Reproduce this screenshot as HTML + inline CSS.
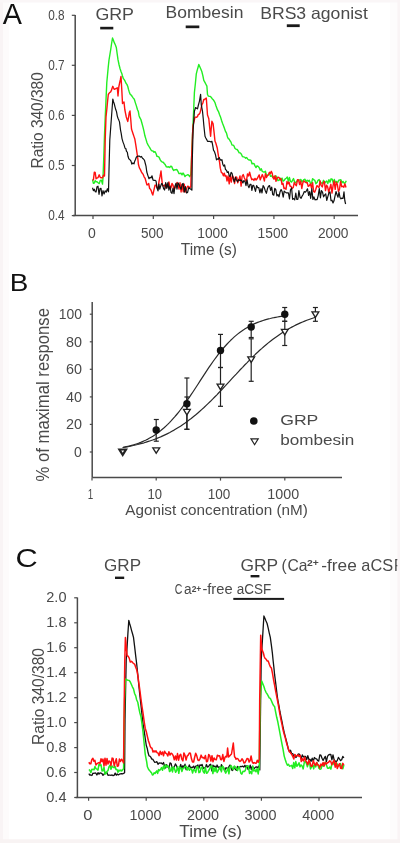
<!DOCTYPE html>
<html><head><meta charset="utf-8"><title>Figure</title>
<style>html,body{margin:0;padding:0;background:#fff;width:400px;height:843px;overflow:hidden}svg{display:block;font-family:"Liberation Sans",sans-serif;filter:blur(0.35px)}</style>
</head><body>
<svg width="400" height="843" viewBox="0 0 400 843" font-family="Liberation Sans, sans-serif">
<rect x="0" y="0" width="400" height="843" fill="#fff"/>
<rect x="3" y="0" width="6" height="843" fill="#fdfbfb"/>
<rect x="390" y="0" width="7.3" height="843" fill="#fdfcfc"/>
<rect x="0" y="0" width="3" height="843" fill="#f9f4f5"/>
<rect x="0" y="0" width="400" height="2.5" fill="#faf6f7"/>
<text x="2.8" y="24" font-size="30" text-anchor="start" fill="#111" textLength="19.2" lengthAdjust="spacingAndGlyphs">A</text>
<text x="95.4" y="19.5" font-size="16" text-anchor="start" fill="#4a4a4a" textLength="38.6" lengthAdjust="spacingAndGlyphs">GRP</text>
<text x="165.6" y="18" font-size="16.5" text-anchor="start" fill="#4a4a4a" textLength="77.8" lengthAdjust="spacingAndGlyphs">Bombesin</text>
<text x="260.2" y="19.2" font-size="16.5" text-anchor="start" fill="#4a4a4a" textLength="107.6" lengthAdjust="spacingAndGlyphs">BRS3 agonist</text>
<rect x="100.2" y="26.8" width="13.1" height="2.6" fill="#1a1a1a"/>
<rect x="185.7" y="25.5" width="13.6" height="2.7" fill="#1a1a1a"/>
<rect x="286.8" y="24.3" width="12.9" height="2.8" fill="#1a1a1a"/>
<line x1="75.2" y1="15" x2="75.2" y2="215.6" stroke="#4a4a4a" stroke-width="1.5"/>
<line x1="73" y1="215.6" x2="358" y2="215.6" stroke="#4a4a4a" stroke-width="1.5"/>
<line x1="71.8" y1="15.3" x2="75.2" y2="15.3" stroke="#4a4a4a" stroke-width="1.2"/>
<text x="64.6" y="20.1" font-size="13.8" text-anchor="end" fill="#4a4a4a" textLength="16.4" lengthAdjust="spacingAndGlyphs">0.8</text>
<line x1="71.8" y1="65.3" x2="75.2" y2="65.3" stroke="#4a4a4a" stroke-width="1.2"/>
<text x="64.6" y="70.1" font-size="13.8" text-anchor="end" fill="#4a4a4a" textLength="16.4" lengthAdjust="spacingAndGlyphs">0.7</text>
<line x1="71.8" y1="115.4" x2="75.2" y2="115.4" stroke="#4a4a4a" stroke-width="1.2"/>
<text x="64.6" y="120.2" font-size="13.8" text-anchor="end" fill="#4a4a4a" textLength="16.4" lengthAdjust="spacingAndGlyphs">0.6</text>
<line x1="71.8" y1="165.5" x2="75.2" y2="165.5" stroke="#4a4a4a" stroke-width="1.2"/>
<text x="64.6" y="170.3" font-size="13.8" text-anchor="end" fill="#4a4a4a" textLength="16.4" lengthAdjust="spacingAndGlyphs">0.5</text>
<line x1="71.8" y1="215.6" x2="75.2" y2="215.6" stroke="#4a4a4a" stroke-width="1.2"/>
<text x="64.6" y="220.4" font-size="13.8" text-anchor="end" fill="#4a4a4a" textLength="16.4" lengthAdjust="spacingAndGlyphs">0.4</text>
<line x1="93" y1="215.6" x2="93" y2="219" stroke="#4a4a4a" stroke-width="1.2"/>
<text x="92" y="237.6" font-size="14.6" text-anchor="middle" fill="#4a4a4a" textLength="7.8" lengthAdjust="spacingAndGlyphs">0</text>
<line x1="153.3" y1="215.6" x2="153.3" y2="219" stroke="#4a4a4a" stroke-width="1.2"/>
<text x="152.3" y="237.6" font-size="14.6" text-anchor="middle" fill="#4a4a4a" textLength="22.6" lengthAdjust="spacingAndGlyphs">500</text>
<line x1="213.6" y1="215.6" x2="213.6" y2="219" stroke="#4a4a4a" stroke-width="1.2"/>
<text x="212.6" y="237.6" font-size="14.6" text-anchor="middle" fill="#4a4a4a" textLength="30.6" lengthAdjust="spacingAndGlyphs">1000</text>
<line x1="273.9" y1="215.6" x2="273.9" y2="219" stroke="#4a4a4a" stroke-width="1.2"/>
<text x="272.9" y="237.6" font-size="14.6" text-anchor="middle" fill="#4a4a4a" textLength="30.6" lengthAdjust="spacingAndGlyphs">1500</text>
<line x1="334.2" y1="215.6" x2="334.2" y2="219" stroke="#4a4a4a" stroke-width="1.2"/>
<text x="333.2" y="237.6" font-size="14.6" text-anchor="middle" fill="#4a4a4a" textLength="30.6" lengthAdjust="spacingAndGlyphs">2000</text>
<text x="180.8" y="255" font-size="16.8" text-anchor="start" fill="#4a4a4a" textLength="56" lengthAdjust="spacingAndGlyphs">Time (s)</text>
<text x="0" y="0" font-size="16.5" fill="#4a4a4a" textLength="96.3" lengthAdjust="spacingAndGlyphs" transform="translate(42.8 168.5) rotate(-90)">Ratio 340/380</text>
<path d="M92.5 179.7 L93.4 183.3 L94.3 183 L95.2 180.6 L96.1 181.9 L97 181.8 L98.1 182.8 L99.2 183.6 L100.3 180.4 L101.4 180.1 L102.5 184.1 L103 178 L103.8 156.5 L104.5 135 L105.2 117.5 L106 100 L106.8 82.5 L107.5 75 L108.2 67.5 L109 60 L109.9 54.5 L110.8 49 L111.6 43.5 L112.5 38 L113.5 40.4 L114.4 42.9 L115.3 44.7 L116.3 47.4 L117.2 54 L118 59.7 L119 64.5 L120 68.5 L121 71.4 L121.8 73.4 L122.5 76 L123.3 78.5 L124.2 79.6 L125.1 81.2 L126 83.3 L126.9 84.4 L127.8 86.5 L128.5 89.4 L129.3 92 L130 94 L130.8 94.7 L131.5 95.5 L132.3 96.7 L133.3 98.1 L134.3 99.3 L135.3 102.6 L136.4 105.9 L137.5 109.8 L138.3 111.4 L139 115.4 L139.8 117.7 L140.8 119.3 L141.8 122.7 L142.8 126.4 L143.9 130.9 L144.9 135.8 L146 139.4 L147 142.7 L148 144.9 L149 146.5 L150 148.2 L151 150 L152 150.9 L153 151 L154 152.2 L155 151.7 L156 153.5 L157 156.4 L158 156.5 L159 157.1 L160 159.4 L161 161.1 L162.1 162.1 L163.2 162.2 L164.2 163.5 L165.3 164.8 L166.4 166.8 L167.5 167 L168.6 166.8 L169.6 167.5 L170.7 166.2 L171.7 166.5 L172.8 169.2 L173.8 170.5 L174.8 169.8 L175.9 169.7 L176.9 169.5 L177.9 171.3 L179 173.6 L180 173.5 L181 173.1 L182 174.8 L183 173 L184 174.5 L185 176.6 L186 175.4 L186.9 175.1 L187.9 174.6 L188.9 175.5 L189.8 176.7 L190.8 174.4 L191.3 165 L191.9 150 L192.7 130.8 L193.6 111.7 L194.4 92.5 L195.4 83.2 L196.3 73.8 L197.1 70.7 L198 67.5 L198.8 64.4 L199.8 66.8 L200.9 69.3 L201.9 71.8 L202.9 75.9 L203.8 80.4 L204.8 82.1 L205.9 84.3 L206.9 86.2 L207.5 94.5 L208.4 96.1 L209.4 96.4 L210.4 96.4 L211.3 97.5 L212.2 98.7 L213.2 99.7 L214.1 101 L215 102.6 L215.8 105.2 L216.7 107.7 L217.5 109.9 L218.5 111.6 L219.5 114.5 L220.5 116.9 L221.5 120.2 L222.5 123.2 L223.5 125.8 L224.5 128.6 L225.5 131.4 L226.5 133.1 L227.5 137 L228.3 138.6 L229.2 139.2 L230 140.8 L231 142.1 L232 145.1 L233 145.1 L234 146.1 L235 148.5 L236 149.1 L237.1 149.5 L238.1 150.8 L239.2 152.8 L240.3 152.9 L241.4 154.2 L242.4 156.5 L243.5 156.9 L244.6 157.1 L245.6 158.2 L246.7 157.6 L247.8 159.2 L248.9 160 L249.9 160 L251 160.4 L252 163.7 L253 163.5 L254 163.6 L255 165.9 L256 167.6 L257 165.8 L258.1 166.4 L259.1 167.5 L260.2 170.2 L261.3 168.8 L262.3 171.4 L263.4 172 L264.4 172.1 L265.4 171.3 L266.5 175.4 L267.5 175.2 L268.6 174.5 L269.6 173.7 L270.6 176.4 L271.7 175.8 L272.8 177.2 L273.8 176.6 L274.8 178.3 L275.9 175.8 L276.9 177.2 L277.9 180.6 L279 180.4 L280 177.9 L281 180.6 L282.1 178.1 L283.1 181.2 L284.2 180.4 L285.2 178.9 L286.2 178.2 L287.3 177.1 L288.3 181.4 L289.4 177.5 L290.4 181.3 L291.5 182.1 L292.5 180.3 L293.5 178.5 L294.6 182 L295.6 182.7 L296.7 181.4 L297.7 180.6 L298.8 180 L299.8 180 L300.8 179.4 L301.9 181.9 L302.9 180.7 L304 179.6 L305 179.2 L306.1 182.2 L307.2 180.2 L308.3 181.3 L309.3 180.3 L310.4 183.2 L311.5 183.3 L312.6 178.7 L313.7 179.6 L314.8 180.3 L315.9 183.7 L317 182.6 L318 180.3 L319.1 179.6 L320.2 182 L321.3 182.9 L322.4 183.4 L323.5 180.3 L324.6 183.1 L325.6 182 L326.7 181 L327.8 183.6 L328.9 179.6 L330 182.2 L331.1 178.8 L332.2 179.2 L333.3 183.1 L334.3 179.4 L335.4 182.3 L336.5 181.4 L337.6 182.7 L338.7 180.2 L339.8 180 L340.9 179.8 L342 182.8 L343 181.4 L344.1 183.2 L345.2 182.9 L346.3 180.8" fill="none" stroke="#22ee22" stroke-width="1.4" stroke-linejoin="round"/>
<path d="M92.5 179.8 L93.4 179.8 L94.3 172.3 L95.2 172.5 L96.1 178.8 L97 178 L98.1 177.6 L99.2 174.8 L100.3 177.5 L101.4 177.7 L102.5 177.7 L103.5 175.1 L104.5 176 L105.2 140 L106 117 L106.8 109.5 L107.5 102 L108.3 94.5 L109 93.4 L109.8 92.3 L110.5 92.1 L111.3 90.7 L112 88.5 L112.8 86.3 L113.5 87.8 L114.3 89.3 L115.3 88.8 L116.3 88.3 L117.3 87.8 L118 96 L118.8 87 L119.5 83.5 L120.3 80 L121 76.5 L121.8 90 L122.5 103.5 L123.2 102.8 L124 102 L124.8 109.5 L125.5 113.2 L126.3 117 L127 119.2 L127.8 121.5 L128.6 117 L129.3 112.5 L130 111 L130.8 120 L131.5 129 L132.3 131.6 L133.2 134.2 L134 136.6 L134.8 138.9 L135.9 145.6 L137 153 L137.8 158.7 L138.5 164.8 L139.4 167.9 L140.4 169.6 L141.4 171.9 L142.3 173.3 L143.2 174.4 L144.2 177.1 L145.1 178.2 L146 181.5 L146.9 184.9 L147.8 184.7 L148.7 183.5 L149.6 188.4 L150.5 189.2 L151.3 190.9 L152 193.3 L152.8 195 L153.9 190.1 L155 185.3 L156 185.1 L157 187.8 L158 188.8 L159 181.4 L160 176.7 L161 171 L161.8 179.1 L162.5 185.8 L163.6 185.8 L164.6 185.1 L165.7 188.1 L166.8 184.3 L167.9 187 L168.9 181.9 L170 187.3 L171 187.9 L172 183.4 L173 185 L174 189.5 L175 187.7 L176 185.2 L177 182.4 L178 184 L179 189.1 L180 182.8 L181.1 192 L182.2 183.9 L183.2 191.7 L184.3 184.3 L185.4 191.9 L186.5 188.8 L187.6 186.3 L188.6 186.4 L189.7 187.8 L190.8 187 L191.5 160 L192.5 135 L193.1 125 L194.1 121.1 L195 117.1 L195.8 117.1 L196.7 117.3 L197.5 116.5 L198.3 114.4 L199.2 114.2 L200 112.8 L200.9 109.3 L201.9 104.6 L202.9 102.8 L203.8 99.4 L204.6 99.5 L205.5 98.6 L206.3 98.1 L206.9 106.5 L207.5 115 L208.2 116.9 L208.8 118.8 L209.7 127.6 L210.6 136.3 L211.2 128.8 L211.9 121.3 L212.5 122.5 L213.1 123.8 L214.1 132.6 L215 141.3 L215.8 143 L216.5 145.5 L217.3 148.3 L218 153.1 L218.8 158 L219.6 162.3 L220.3 168.2 L221.4 172.6 L222.5 173.2 L223.4 175.8 L224.3 173.1 L225.2 176.2 L226.1 175.8 L227 181 L228.1 176 L229.2 183.8 L230.2 175.6 L231.3 182.1 L232.4 175.5 L233.5 177.9 L234.6 183.5 L235.7 177 L236.8 177.3 L237.8 182.8 L238.9 179.6 L240 175.9 L241.1 186.1 L242.1 176.3 L243.2 174.6 L244.3 177.7 L245.4 180.3 L246.4 181.4 L247.5 173.9 L248.6 176 L249.6 172.2 L250.7 176.5 L251.8 179.7 L252.9 179 L253.9 180.4 L255 178.4 L256.1 180 L257.1 178.8 L258.1 176.9 L259.2 174.9 L260.2 179.9 L261.3 177 L262.3 174.6 L263.4 177.5 L264.4 181 L265.4 173.8 L266.5 177.5 L267.5 175.4 L268.4 175.1 L269.4 172.3 L270.4 173.5 L271.3 171.3 L272.2 173.4 L273.1 177.8 L274 179.2 L275 175.7 L276 181.4 L277 177.7 L278 177.3 L279 177.5 L280 179.2 L281 178.7 L282 184.4 L283 183.3 L284 188.5 L285 188.3 L286 189.3 L287 181.4 L288 183.9 L289 182 L290 186 L291.1 186.5 L292.1 188.6 L293.2 187.6 L294.3 182.5 L295.4 184.5 L296.4 185.7 L297.5 179.6 L298.6 180 L299.6 184.5 L300.7 181 L301.8 188.5 L302.9 182.6 L303.9 180.9 L305 182 L306.1 182.7 L307.2 182.5 L308.2 186.4 L309.3 185.7 L310.4 183.8 L311.5 188 L312.6 182.7 L313.6 191.4 L314.7 192.2 L315.8 189.3 L316.9 185.6 L317.9 186.6 L319 187.5 L320.1 180.9 L321.2 185.6 L322.3 186.9 L323.3 182.7 L324.4 181.6 L325.5 190.6 L326.6 185.1 L327.7 187.1 L328.7 192.2 L329.8 188.3 L330.9 184.3 L332 193.1 L333.1 185.4 L334.1 181 L335.2 189.4 L336.3 182.1 L337.4 184.7 L338.4 191.5 L339.5 189.4 L340.6 181.2 L341.7 186.7 L342.8 186.3 L343.8 187.2 L344.9 183.8 L346 187.5" fill="none" stroke="#ff1010" stroke-width="1.4" stroke-linejoin="round"/>
<path d="M92.5 187.8 L93.4 190.6 L94.3 189.2 L95.2 191.6 L96.1 192 L97 186.7 L98 186.2 L99 194.3 L100 188.6 L101 188.4 L102 195.9 L103 190.7 L104.1 194 L105.2 190.8 L106.3 192 L107.4 188.7 L108.5 191.8 L109 170 L109.8 140 L110.8 126.3 L111.8 112.7 L112.8 99 L113.5 101.7 L114.3 104 L115 106.8 L115.8 109.8 L116.5 111.6 L117.3 116.1 L118 118.2 L118.8 120.1 L119.5 121.9 L120.5 129.8 L121.2 133.4 L122 138.6 L123 142.1 L124 144.6 L125 148.2 L125.8 148.5 L126.5 151.4 L127.3 152.1 L128 156.3 L128.8 158.8 L129.5 159.4 L130.3 160.2 L131 161.2 L131.8 164.1 L132.9 163 L134 163.9 L134.8 160.9 L135.5 159.5 L136.3 157.2 L137.4 156.3 L138.5 156.2 L139.5 156.2 L140.5 157.1 L141.5 156.5 L142.5 158.2 L143.5 159 L144.5 160.4 L145.3 163.5 L146 166.1 L146.8 172 L147.9 175.6 L149 178.7 L150 177.3 L151 177.9 L152 175.8 L153 180 L154 180.4 L155 180.3 L156 180.9 L157 187.8 L158 190.9 L158.9 184.2 L159.8 189.2 L160.7 185.9 L161.6 183.5 L162.5 184.3 L163.6 188.7 L164.6 190 L165.7 182.5 L166.8 188.3 L167.9 182.7 L168.9 190.1 L170 186.1 L171 192.3 L172 193.4 L173 188.1 L174 193.6 L175 185.9 L176 183.3 L177 189.1 L178 182.8 L179 184.6 L180 187 L181.1 189.3 L182.2 184.5 L183.2 183.5 L184.3 192.1 L185.4 186.6 L186.5 193 L187.6 192.4 L188.7 187.6 L189.7 188.5 L190.8 189.1 L191.9 190.2 L192.3 160 L193.1 130 L193.8 120.7 L194.4 111.3 L195 109.4 L195.6 107.5 L196.6 108.2 L197.5 108.8 L198.4 105 L199.4 101.3 L200 97.8 L200.6 94.4 L201.3 105 L201.9 108.2 L202.5 111.3 L203.2 118.2 L203.8 125 L204.4 130.7 L205 136.3 L205.8 138 L206.7 139.6 L207.5 141.3 L208.3 141.3 L209.2 141.4 L210 141.5 L210.9 141.9 L211.9 141.3 L212.7 145.3 L213.5 150.1 L214.5 151.8 L215.5 154.9 L216.5 159.8 L217.4 158.9 L218.3 159.3 L219.2 157.6 L220.1 159.4 L221 160.3 L221.9 159.6 L222.8 164.2 L223.7 166.1 L224.6 164.9 L225.5 169.7 L226.4 170 L227.3 172.5 L228.2 171.7 L229.1 175.2 L230 176.7 L231.1 172.4 L232.1 173.5 L233.2 178.9 L234.3 182 L235.4 177.3 L236.4 179.8 L237.5 181.8 L238.6 179.7 L239.6 180.3 L240.7 180.1 L241.8 180.8 L242.9 182.9 L243.9 180.6 L245 181.5 L246 185.6 L247 179.8 L248 185.4 L249 187.7 L250 184.4 L251 184.3 L251.9 190.5 L252.8 185.4 L253.7 185.4 L254.6 188.4 L255.5 191.4 L256.6 185.5 L257.7 187.6 L258.8 187.7 L259.9 192.8 L261 188.6 L262 193 L263.1 185.6 L264.2 187.4 L265.3 190.7 L266.4 193.3 L267.5 188.5 L268.5 186.3 L269.6 185.6 L270.6 190.5 L271.7 187.1 L272.7 194.4 L273.8 195.2 L274.8 188.3 L275.8 189.7 L276.9 196 L277.9 194.6 L279 196.8 L280 192.1 L281.1 189.6 L282.1 191.5 L283.2 197.2 L284.2 191.2 L285.3 192.1 L286.3 192.9 L287.4 192.9 L288.4 192.8 L289.5 198.9 L290.5 189.8 L291.6 188 L292.6 199.3 L293.7 198.6 L294.7 199.9 L295.8 193.2 L296.8 199.5 L297.9 199.3 L298.9 190.5 L300 197.1 L301.1 198.3 L302.1 196.1 L303.2 194.3 L304.3 191.5 L305.4 192.2 L306.4 190.8 L307.5 188.8 L308.6 195.4 L309.6 191.6 L310.7 198.3 L311.8 188.7 L312.9 199.5 L313.9 196.9 L315 199.8 L316.1 199.5 L317.1 199.6 L318.2 195.6 L319.3 188.5 L320.4 197.8 L321.4 190.6 L322.5 192.2 L323.6 196.8 L324.6 195.1 L325.7 193.8 L326.8 200.4 L327.9 196.3 L328.9 193 L330 191.9 L331 200.7 L332 200.2 L333 203 L334 200.8 L335 196.2 L336 191.5 L337 194.5 L338 197.2 L339 192 L340 197.5 L341 198.8 L342 198.1 L343 198.5 L344 191.9 L344.8 200.5 L345.6 204" fill="none" stroke="#111111" stroke-width="1.2" stroke-linejoin="round"/>
<text x="9.8" y="291.3" font-size="24.5" text-anchor="start" fill="#111" textLength="18.6" lengthAdjust="spacingAndGlyphs">B</text>
<line x1="92.2" y1="302" x2="92.2" y2="477.4" stroke="#4a4a4a" stroke-width="1.5"/>
<line x1="92.2" y1="477.4" x2="342" y2="477.4" stroke="#4a4a4a" stroke-width="1.5"/>
<line x1="89.8" y1="452" x2="92.2" y2="452" stroke="#4a4a4a" stroke-width="1.2"/>
<text x="81.9" y="456.8" font-size="14.5" text-anchor="end" fill="#4a4a4a" textLength="7.8" lengthAdjust="spacingAndGlyphs">0</text>
<line x1="89.8" y1="424.4" x2="92.2" y2="424.4" stroke="#4a4a4a" stroke-width="1.2"/>
<text x="81.9" y="429.2" font-size="14.5" text-anchor="end" fill="#4a4a4a" textLength="16" lengthAdjust="spacingAndGlyphs">20</text>
<line x1="89.8" y1="396.9" x2="92.2" y2="396.9" stroke="#4a4a4a" stroke-width="1.2"/>
<text x="81.9" y="401.7" font-size="14.5" text-anchor="end" fill="#4a4a4a" textLength="16" lengthAdjust="spacingAndGlyphs">40</text>
<line x1="89.8" y1="369.3" x2="92.2" y2="369.3" stroke="#4a4a4a" stroke-width="1.2"/>
<text x="81.9" y="374.1" font-size="14.5" text-anchor="end" fill="#4a4a4a" textLength="16" lengthAdjust="spacingAndGlyphs">60</text>
<line x1="89.8" y1="341.8" x2="92.2" y2="341.8" stroke="#4a4a4a" stroke-width="1.2"/>
<text x="81.9" y="346.6" font-size="14.5" text-anchor="end" fill="#4a4a4a" textLength="16" lengthAdjust="spacingAndGlyphs">80</text>
<line x1="89.8" y1="314.2" x2="92.2" y2="314.2" stroke="#4a4a4a" stroke-width="1.2"/>
<text x="81.9" y="319" font-size="14.5" text-anchor="end" fill="#4a4a4a" textLength="23.2" lengthAdjust="spacingAndGlyphs">100</text>
<line x1="92" y1="477.4" x2="92" y2="480.6" stroke="#4a4a4a" stroke-width="1.2"/>
<text x="90.5" y="498.6" font-size="14.5" text-anchor="middle" fill="#4a4a4a" textLength="5.5" lengthAdjust="spacingAndGlyphs">1</text>
<line x1="156.2" y1="477.4" x2="156.2" y2="480.6" stroke="#4a4a4a" stroke-width="1.2"/>
<text x="154.8" y="498.6" font-size="14.5" text-anchor="middle" fill="#4a4a4a" textLength="14.5" lengthAdjust="spacingAndGlyphs">10</text>
<line x1="220.5" y1="477.4" x2="220.5" y2="480.6" stroke="#4a4a4a" stroke-width="1.2"/>
<text x="219" y="498.6" font-size="14.5" text-anchor="middle" fill="#4a4a4a" textLength="22.5" lengthAdjust="spacingAndGlyphs">100</text>
<line x1="284.8" y1="477.4" x2="284.8" y2="480.6" stroke="#4a4a4a" stroke-width="1.2"/>
<text x="283.2" y="498.6" font-size="14.5" text-anchor="middle" fill="#4a4a4a" textLength="31.8" lengthAdjust="spacingAndGlyphs">1000</text>
<text x="125.3" y="515" font-size="15" text-anchor="start" fill="#4a4a4a" textLength="182.5" lengthAdjust="spacingAndGlyphs">Agonist concentration (nM)</text>
<text x="0" y="0" font-size="18.5" fill="#4a4a4a" textLength="173.5" lengthAdjust="spacingAndGlyphs" transform="translate(49.3 481.5) rotate(-90)">% of maximal response</text>
<path d="M122.7 447.5 L124.5 447.1 L126.3 446.7 L128.1 446.3 L129.9 445.9 L131.7 445.4 L133.5 444.9 L135.3 444.3 L137.1 443.7 L138.9 443.1 L140.7 442.4 L142.5 441.6 L144.3 440.8 L146.1 440 L147.9 439.1 L149.7 438.1 L151.5 437.1 L153.3 436 L155.1 434.8 L156.9 433.5 L158.7 432.2 L160.5 430.8 L162.3 429.3 L164.1 427.8 L165.9 426.1 L167.7 424.4 L169.5 422.6 L171.3 420.7 L173.1 418.7 L174.9 416.7 L176.7 414.5 L178.5 412.3 L180.3 410 L182.1 407.6 L183.9 405.1 L185.7 402.6 L187.5 400 L189.3 397.4 L191.1 394.7 L192.9 392 L194.7 389.2 L196.5 386.5 L198.3 383.7 L200.1 380.9 L201.9 378.1 L203.7 375.4 L205.5 372.6 L207.3 369.9 L209.1 367.2 L210.9 364.6 L212.7 362 L214.5 359.5 L216.3 357.1 L218.1 354.7 L219.9 352.4 L221.7 350.2 L223.5 348 L225.3 346 L227.1 344 L228.9 342.1 L230.7 340.3 L232.5 338.6 L234.3 336.9 L236.1 335.4 L237.9 333.9 L239.7 332.5 L241.5 331.2 L243.3 329.9 L245.1 328.8 L246.9 327.7 L248.7 326.7 L250.5 325.7 L252.3 324.8 L254.1 323.9 L255.9 323.1 L257.7 322.4 L259.5 321.7 L261.3 321.1 L263.1 320.5 L264.9 319.9 L266.7 319.4 L268.5 318.9 L270.3 318.5 L272.1 318 L273.9 317.7 L275.7 317.3 L277.5 317 L279.3 316.7 L281.1 316.4 L282.9 316.1 L284.8 315.9" fill="none" stroke="#2a2a2a" stroke-width="1.2" stroke-linejoin="round"/>
<path d="M122.7 447.5 L124.8 447.2 L126.9 446.8 L129.1 446.4 L131.2 445.9 L133.4 445.5 L135.5 445 L137.6 444.5 L139.8 443.9 L141.9 443.4 L144.1 442.8 L146.2 442.1 L148.4 441.4 L150.5 440.7 L152.6 440 L154.8 439.2 L156.9 438.4 L159.1 437.5 L161.2 436.6 L163.3 435.6 L165.5 434.6 L167.6 433.6 L169.8 432.5 L171.9 431.3 L174.1 430.1 L176.2 428.8 L178.3 427.5 L180.5 426.2 L182.6 424.7 L184.8 423.3 L186.9 421.7 L189 420.1 L191.2 418.5 L193.3 416.8 L195.5 415 L197.6 413.2 L199.8 411.3 L201.9 409.4 L204 407.5 L206.2 405.4 L208.3 403.4 L210.5 401.3 L212.6 399.2 L214.7 397 L216.9 394.8 L219 392.5 L221.2 390.3 L223.3 388 L225.5 385.7 L227.6 383.4 L229.7 381.1 L231.9 378.7 L234 376.4 L236.2 374.1 L238.3 371.8 L240.4 369.5 L242.6 367.3 L244.7 365 L246.9 362.8 L249 360.6 L251.2 358.5 L253.3 356.4 L255.4 354.3 L257.6 352.3 L259.7 350.3 L261.9 348.4 L264 346.5 L266.1 344.7 L268.3 342.9 L270.4 341.2 L272.6 339.5 L274.7 337.9 L276.9 336.4 L279 334.9 L281.1 333.4 L283.3 332.1 L285.4 330.7 L287.6 329.5 L289.7 328.2 L291.8 327.1 L294 326 L296.1 324.9 L298.3 323.9 L300.4 322.9 L302.6 322 L304.7 321.1 L306.8 320.3 L309 319.5 L311.1 318.7 L313.3 318 L315.4 317.3" fill="none" stroke="#2a2a2a" stroke-width="1.2" stroke-linejoin="round"/>
<line x1="156.2" y1="419.5" x2="156.2" y2="441.2" stroke="#222" stroke-width="1.2"/>
<line x1="153.8" y1="419.5" x2="158.8" y2="419.5" stroke="#222" stroke-width="1.2"/>
<line x1="153.8" y1="441.2" x2="158.8" y2="441.2" stroke="#222" stroke-width="1.2"/>
<line x1="186.9" y1="378" x2="186.9" y2="429.3" stroke="#222" stroke-width="1.2"/>
<line x1="184.4" y1="378" x2="189.4" y2="378" stroke="#222" stroke-width="1.2"/>
<line x1="184.4" y1="429.3" x2="189.4" y2="429.3" stroke="#222" stroke-width="1.2"/>
<line x1="220.5" y1="334.4" x2="220.5" y2="367.5" stroke="#222" stroke-width="1.2"/>
<line x1="218" y1="334.4" x2="223" y2="334.4" stroke="#222" stroke-width="1.2"/>
<line x1="218" y1="367.5" x2="223" y2="367.5" stroke="#222" stroke-width="1.2"/>
<line x1="251.2" y1="321.3" x2="251.2" y2="337.5" stroke="#222" stroke-width="1.2"/>
<line x1="248.7" y1="321.3" x2="253.7" y2="321.3" stroke="#222" stroke-width="1.2"/>
<line x1="248.7" y1="337.5" x2="253.7" y2="337.5" stroke="#222" stroke-width="1.2"/>
<line x1="284.8" y1="307.5" x2="284.8" y2="321.3" stroke="#222" stroke-width="1.2"/>
<line x1="282.2" y1="307.5" x2="287.2" y2="307.5" stroke="#222" stroke-width="1.2"/>
<line x1="282.2" y1="321.3" x2="287.2" y2="321.3" stroke="#222" stroke-width="1.2"/>
<line x1="186.9" y1="397" x2="186.9" y2="429.3" stroke="#222" stroke-width="1.2"/>
<line x1="184.4" y1="397" x2="189.4" y2="397" stroke="#222" stroke-width="1.2"/>
<line x1="184.4" y1="429.3" x2="189.4" y2="429.3" stroke="#222" stroke-width="1.2"/>
<line x1="220.5" y1="367.5" x2="220.5" y2="406.3" stroke="#222" stroke-width="1.2"/>
<line x1="218" y1="367.5" x2="223" y2="367.5" stroke="#222" stroke-width="1.2"/>
<line x1="218" y1="406.3" x2="223" y2="406.3" stroke="#222" stroke-width="1.2"/>
<line x1="251.2" y1="338.8" x2="251.2" y2="381.3" stroke="#222" stroke-width="1.2"/>
<line x1="248.7" y1="338.8" x2="253.7" y2="338.8" stroke="#222" stroke-width="1.2"/>
<line x1="248.7" y1="381.3" x2="253.7" y2="381.3" stroke="#222" stroke-width="1.2"/>
<line x1="284.8" y1="321.3" x2="284.8" y2="345.5" stroke="#222" stroke-width="1.2"/>
<line x1="282.2" y1="321.3" x2="287.2" y2="321.3" stroke="#222" stroke-width="1.2"/>
<line x1="282.2" y1="345.5" x2="287.2" y2="345.5" stroke="#222" stroke-width="1.2"/>
<line x1="315.4" y1="307.5" x2="315.4" y2="321.3" stroke="#222" stroke-width="1.2"/>
<line x1="312.9" y1="307.5" x2="317.9" y2="307.5" stroke="#222" stroke-width="1.2"/>
<line x1="312.9" y1="321.3" x2="317.9" y2="321.3" stroke="#222" stroke-width="1.2"/>
<path d="M152.8 447.8 L159.7 447.8 L156.2 453.2 Z" fill="#fff" stroke="#222" stroke-width="1.3"/>
<path d="M183.5 409.4 L190.3 409.4 L186.9 414.9 Z" fill="#fff" stroke="#222" stroke-width="1.3"/>
<path d="M217.1 384.2 L223.9 384.2 L220.5 389.7 Z" fill="#fff" stroke="#222" stroke-width="1.3"/>
<path d="M247.8 356.9 L254.6 356.9 L251.2 362.4 Z" fill="#fff" stroke="#222" stroke-width="1.3"/>
<path d="M281.4 329.4 L288.1 329.4 L284.8 334.9 Z" fill="#fff" stroke="#222" stroke-width="1.3"/>
<path d="M312 311.9 L318.8 311.9 L315.4 317.4 Z" fill="#fff" stroke="#222" stroke-width="1.3"/>
<circle cx="156.2" cy="430" r="3.7" fill="#111"/>
<circle cx="186.9" cy="403.8" r="3.7" fill="#111"/>
<circle cx="220.5" cy="350.5" r="3.7" fill="#111"/>
<circle cx="251.2" cy="327" r="3.7" fill="#111"/>
<circle cx="284.8" cy="314.3" r="3.7" fill="#111"/>
<path d="M119.4 449.5 L126 449.5 L122.7 454.8 Z" fill="#fff" stroke="#222" stroke-width="2.2"/>
<circle cx="253.8" cy="421" r="3.8" fill="#111"/>
<path d="M251 438.9 L258.2 438.9 L254.6 444.7 Z" fill="#fff" stroke="#222" stroke-width="1.2"/>
<text x="280.2" y="425.2" font-size="15.5" text-anchor="start" fill="#4a4a4a" textLength="38.2" lengthAdjust="spacingAndGlyphs">GRP</text>
<text x="280.2" y="444.7" font-size="15.5" text-anchor="start" fill="#4a4a4a" textLength="74.2" lengthAdjust="spacingAndGlyphs">bombesin</text>
<text x="15.6" y="567" font-size="26.5" text-anchor="start" fill="#111" textLength="22.2" lengthAdjust="spacingAndGlyphs">C</text>
<line x1="77.4" y1="597.5" x2="77.4" y2="797.6" stroke="#4a4a4a" stroke-width="1.5"/>
<line x1="75.7" y1="797.6" x2="362" y2="797.6" stroke="#4a4a4a" stroke-width="1.5"/>
<line x1="74.2" y1="797.5" x2="77.4" y2="797.5" stroke="#4a4a4a" stroke-width="1.2"/>
<text x="66.5" y="802.1" font-size="14.2" text-anchor="end" fill="#4a4a4a" textLength="20.2" lengthAdjust="spacingAndGlyphs">0.4</text>
<line x1="74.2" y1="772.5" x2="77.4" y2="772.5" stroke="#4a4a4a" stroke-width="1.2"/>
<text x="66.5" y="777.1" font-size="14.2" text-anchor="end" fill="#4a4a4a" textLength="20.2" lengthAdjust="spacingAndGlyphs">0.6</text>
<line x1="74.2" y1="747.6" x2="77.4" y2="747.6" stroke="#4a4a4a" stroke-width="1.2"/>
<text x="66.5" y="752.2" font-size="14.2" text-anchor="end" fill="#4a4a4a" textLength="20.2" lengthAdjust="spacingAndGlyphs">0.8</text>
<line x1="74.2" y1="722.6" x2="77.4" y2="722.6" stroke="#4a4a4a" stroke-width="1.2"/>
<text x="66.5" y="727.2" font-size="14.2" text-anchor="end" fill="#4a4a4a" textLength="20.2" lengthAdjust="spacingAndGlyphs">1.0</text>
<line x1="74.2" y1="697.7" x2="77.4" y2="697.7" stroke="#4a4a4a" stroke-width="1.2"/>
<text x="66.5" y="702.3" font-size="14.2" text-anchor="end" fill="#4a4a4a" textLength="20.2" lengthAdjust="spacingAndGlyphs">1.2</text>
<line x1="74.2" y1="672.7" x2="77.4" y2="672.7" stroke="#4a4a4a" stroke-width="1.2"/>
<text x="66.5" y="677.3" font-size="14.2" text-anchor="end" fill="#4a4a4a" textLength="20.2" lengthAdjust="spacingAndGlyphs">1.4</text>
<line x1="74.2" y1="647.7" x2="77.4" y2="647.7" stroke="#4a4a4a" stroke-width="1.2"/>
<text x="66.5" y="652.3" font-size="14.2" text-anchor="end" fill="#4a4a4a" textLength="20.2" lengthAdjust="spacingAndGlyphs">1.6</text>
<line x1="74.2" y1="622.8" x2="77.4" y2="622.8" stroke="#4a4a4a" stroke-width="1.2"/>
<text x="66.5" y="627.4" font-size="14.2" text-anchor="end" fill="#4a4a4a" textLength="20.2" lengthAdjust="spacingAndGlyphs">1.8</text>
<line x1="74.2" y1="597.8" x2="77.4" y2="597.8" stroke="#4a4a4a" stroke-width="1.2"/>
<text x="66.5" y="602.4" font-size="14.2" text-anchor="end" fill="#4a4a4a" textLength="20.2" lengthAdjust="spacingAndGlyphs">2.0</text>
<line x1="88.6" y1="797.6" x2="88.6" y2="800.8" stroke="#4a4a4a" stroke-width="1.2"/>
<text x="87.8" y="820.2" font-size="14.6" text-anchor="middle" fill="#4a4a4a" textLength="9.2" lengthAdjust="spacingAndGlyphs">0</text>
<line x1="146.2" y1="797.6" x2="146.2" y2="800.8" stroke="#4a4a4a" stroke-width="1.2"/>
<text x="145.4" y="820.2" font-size="14.6" text-anchor="middle" fill="#4a4a4a" textLength="32" lengthAdjust="spacingAndGlyphs">1000</text>
<line x1="203.8" y1="797.6" x2="203.8" y2="800.8" stroke="#4a4a4a" stroke-width="1.2"/>
<text x="203" y="820.2" font-size="14.6" text-anchor="middle" fill="#4a4a4a" textLength="32" lengthAdjust="spacingAndGlyphs">2000</text>
<line x1="261.4" y1="797.6" x2="261.4" y2="800.8" stroke="#4a4a4a" stroke-width="1.2"/>
<text x="260.6" y="820.2" font-size="14.6" text-anchor="middle" fill="#4a4a4a" textLength="32" lengthAdjust="spacingAndGlyphs">3000</text>
<line x1="319" y1="797.6" x2="319" y2="800.8" stroke="#4a4a4a" stroke-width="1.2"/>
<text x="318.2" y="820.2" font-size="14.6" text-anchor="middle" fill="#4a4a4a" textLength="32" lengthAdjust="spacingAndGlyphs">4000</text>
<text x="179.3" y="837" font-size="17" text-anchor="start" fill="#4a4a4a" textLength="62.8" lengthAdjust="spacingAndGlyphs">Time (s)</text>
<text x="0" y="0" font-size="16.5" fill="#4a4a4a" textLength="97" lengthAdjust="spacingAndGlyphs" transform="translate(44.2 745) rotate(-90)">Ratio 340/380</text>
<text x="104.1" y="570.7" font-size="16.5" text-anchor="start" fill="#4a4a4a" textLength="37" lengthAdjust="spacingAndGlyphs">GRP</text>
<rect x="115" y="576.6" width="9.2" height="2.4" fill="#1a1a1a"/>
<text x="240.6" y="571" font-size="16.5" text-anchor="start" fill="#4a4a4a" textLength="37.6" lengthAdjust="spacingAndGlyphs">GRP</text>
<text x="281.4" y="571" font-size="16.5" text-anchor="start" fill="#4a4a4a" textLength="5.2" lengthAdjust="spacingAndGlyphs">(</text>
<text x="287.4" y="571" font-size="16.5" text-anchor="start" fill="#4a4a4a" textLength="20" lengthAdjust="spacingAndGlyphs">Ca</text>
<text x="306.9" y="565.8" font-size="9.5" text-anchor="start" fill="#4a4a4a" textLength="11.8" lengthAdjust="spacingAndGlyphs" font-weight="bold">2+</text>
<text x="321.3" y="571" font-size="16.5" text-anchor="start" fill="#4a4a4a" textLength="35.5" lengthAdjust="spacingAndGlyphs">-free</text>
<text x="361.3" y="571" font-size="17" text-anchor="start" fill="#4a4a4a" textLength="31.8" lengthAdjust="spacingAndGlyphs">aCS</text>
<text x="393.9" y="571" font-size="17" text-anchor="start" fill="#4a4a4a" textLength="9" lengthAdjust="spacingAndGlyphs">F</text>
<rect x="250.6" y="575" width="8.8" height="2.4" fill="#1a1a1a"/>
<text x="174.7" y="594" font-size="15.5" text-anchor="start" fill="#4a4a4a" textLength="7.6" lengthAdjust="spacingAndGlyphs">C</text>
<text x="183.9" y="594" font-size="15.5" text-anchor="start" fill="#4a4a4a" textLength="7.6" lengthAdjust="spacingAndGlyphs">a</text>
<text x="191.7" y="591.6" font-size="8.5" text-anchor="start" fill="#4a4a4a" textLength="9.6" lengthAdjust="spacingAndGlyphs" font-weight="bold">2+</text>
<text x="202.4" y="594" font-size="15.5" text-anchor="start" fill="#4a4a4a" textLength="30.2" lengthAdjust="spacingAndGlyphs">-free</text>
<text x="236.8" y="594" font-size="15.5" text-anchor="start" fill="#4a4a4a" textLength="34.5" lengthAdjust="spacingAndGlyphs">aCSF</text>
<rect x="233.3" y="597.9" width="50.8" height="2" fill="#1a1a1a"/>
<path d="M88.8 773.7 L89.8 775 L90.8 775 L91.9 775.5 L92.9 773.2 L93.9 773.3 L94.9 773 L95.9 773.2 L96.9 775 L98 772.7 L99 774.2 L100 772.9 L101 773.2 L102 773.7 L103 775.3 L104 774.4 L105 772.1 L106 773.1 L107 772.6 L108 775.4 L109 775.2 L110 775.2 L111 775.3 L112.1 774.9 L113.1 775.7 L114.2 775.1 L115.2 773.1 L116.3 775.2 L117.3 774 L118.3 774.9 L119.4 774.2 L120.4 773.8 L121.5 773.6 L122.5 773.8 L123.6 773.4 L124.6 772.8 L125 720 L125.6 690 L126.2 660 L127.1 646.8 L127.9 633.5 L128.8 620.3 L129.7 623.7 L130.7 627.1 L131.6 630.6 L132.6 634 L133.5 637.4 L134.6 646.3 L135.6 655.1 L136.7 664 L137.8 674.7 L138.8 685.3 L139.9 696 L141 705.4 L142 714.8 L143.1 724.3 L144.2 731.2 L145.2 738.2 L146.3 745.5 L147.2 748.2 L148.1 752.8 L149 755.9 L149.9 756.1 L150.8 757.1 L151.8 759.2 L152.7 759.2 L153.8 760.9 L154.8 762.3 L155.9 762.2 L156.9 761.7 L158 764.3 L159.1 763 L160.2 763.1 L161.3 763 L162.4 764.1 L163.5 762.5 L164.5 766 L165.6 768 L166.7 764.7 L167.8 766.9 L168.9 768.4 L170 762.8 L171.1 763.5 L172.1 767.9 L173.2 768.2 L174.3 766.9 L175.4 763.9 L176.4 765.6 L177.5 768.6 L178.6 768.7 L179.6 768.3 L180.7 764.4 L181.8 768.7 L182.9 765.6 L183.9 767.9 L185 764.2 L186.1 769.7 L187.1 767.3 L188.2 768.2 L189.3 764.9 L190.4 767.6 L191.4 767.4 L192.5 767.5 L193.6 766.1 L194.6 768.5 L195.7 766.1 L196.8 765.8 L197.9 765 L198.9 768.4 L200 764.8 L201.1 765.5 L202.1 764.5 L203.2 768.3 L204.3 767.8 L205.4 767.7 L206.4 764.5 L207.5 767.1 L208.6 766.5 L209.6 764.9 L210.7 764.3 L211.8 770.8 L212.9 765.1 L213.9 766.3 L215 766.1 L216.1 768.3 L217.1 765 L218.2 767.5 L219.3 766.9 L220.4 769.9 L221.4 764.6 L222.5 766.8 L223.6 767.8 L224.6 770.9 L225.7 768 L226.8 767.8 L227.9 769.1 L228.9 766.7 L230 765 L231.1 768 L232.1 770.6 L233.2 769.5 L234.3 766.5 L235.3 769.2 L236.4 770.2 L237.4 766.5 L238.5 768.5 L239.6 767.1 L240.6 766.5 L241.7 766.7 L242.8 766.2 L243.8 767.1 L244.9 765.3 L246 767.4 L247 765.6 L248.1 769.5 L249.2 768.6 L250.2 765.2 L251.3 769.5 L252.4 766.3 L253.4 767.9 L254.5 768.3 L255.5 767.1 L256.6 766.9 L257.7 767.7 L258.7 766.1 L259.8 769.9 L260.4 720 L261.2 660 L262.1 645.3 L263 630.7 L263.9 616 L265 618.5 L266 621 L267.1 623.5 L268.2 628.1 L269.2 632.8 L270.3 637.4 L271.4 645.4 L272.4 653.4 L273.1 660.5 L273.9 667.6 L274.6 674.7 L275.7 683.1 L276.7 691.6 L277.8 700 L278.9 705.6 L279.9 711.5 L281 716.8 L282.1 722.1 L283.1 727.5 L284.2 732.4 L285.2 736.3 L286.3 740.5 L287.3 744.5 L288.4 749.5 L289.5 751.6 L290.5 750.3 L291.6 753.5 L292.7 753.6 L293.8 756.5 L294.8 754.7 L295.9 757.5 L296.9 756.2 L297.9 754.4 L299 753.9 L300.1 755.3 L301.2 758.9 L302.3 754.9 L303.4 757 L304.5 756.4 L305.6 756.4 L306.7 759.7 L307.8 755.6 L308.9 759.5 L310 759.3 L311.1 761.4 L312.2 758.2 L313.3 761.3 L314.4 757.5 L315.5 758.6 L316.6 758.9 L317.7 760.6 L318.7 761.1 L319.8 755 L320.9 755.2 L322 758.3 L323.1 760.4 L324.2 758.3 L325.3 756.4 L326.4 761.6 L327.5 756.4 L328.6 754.8 L329.7 754.5 L330.8 754.3 L331.9 759.8 L333 754.9 L334.1 759.7 L335.2 760.9 L336.2 761.9 L337.3 760.4 L338.4 757.4 L339.5 759 L340.6 760.6 L341.7 759.7 L342.8 756.4 L343.9 758" fill="none" stroke="#111111" stroke-width="1.3" stroke-linejoin="round"/>
<path d="M88.8 769.7 L89.8 770.2 L90.9 772.6 L91.9 769.3 L92.9 769.4 L94 769.8 L95 766.5 L96 768.7 L97 769.2 L98 770.1 L99 764.2 L100 765.5 L101 764.7 L102 770.9 L103 770.8 L104 767.1 L105 774.1 L106 773.7 L107 771.3 L108 770.6 L109 766.8 L110 765.2 L111 769.3 L112 766 L113 767.1 L114 767.7 L115 766.3 L116 769.5 L117 769.5 L118 772.2 L118.9 770.1 L119.9 770.9 L120.8 770 L121.7 770.9 L122.7 769.8 L123.6 768.8 L123.9 740 L124.6 700 L125.4 679 L126.3 679.5 L127.3 680 L128.2 680.3 L129.2 680.4 L130.3 682 L131.3 684.3 L132.4 686.8 L133.5 688.8 L134.6 693.5 L135.7 695.9 L136.7 700 L137.8 702.3 L138.9 708.3 L139.9 713 L141 716.8 L142.1 724.6 L143.1 732.7 L144.1 743 L145.2 754.1 L145.9 757.9 L146.7 761.8 L147.4 766.8 L148.5 769.2 L149.5 770.4 L150.6 771.9 L151.5 772.8 L152.4 775 L153.2 774.8 L154.1 772.8 L155 773.5 L155.9 772 L156.8 770.9 L157.7 773.4 L158.6 769.5 L159.5 770.6 L160.5 769.5 L161.5 767.6 L162.5 770.2 L163.5 766.1 L164.5 768.7 L165.5 764.8 L166.5 767 L167.5 765.8 L168.5 766.4 L169.5 771.6 L170.5 770.7 L171.5 767.3 L172.5 771.9 L173.5 767 L174.5 768.7 L175.6 772.3 L176.6 770.6 L177.7 766.4 L178.8 773.3 L179.8 767.3 L180.9 767.6 L181.9 771.6 L183 768.2 L184.1 767.9 L185.1 766.2 L186.2 766.3 L187.2 770.1 L188.3 767.5 L189.4 770.3 L190.4 768.5 L191.5 769.1 L192.6 773.1 L193.6 769.4 L194.7 770.1 L195.8 772.4 L196.8 767 L197.9 766.8 L198.9 772.7 L200 772 L201.1 767.6 L202.1 767.1 L203.2 771.5 L204.3 773.1 L205.4 767.2 L206.4 773.2 L207.5 772.7 L208.6 770.5 L209.6 769 L210.7 766.4 L211.8 765.9 L212.9 773.6 L213.9 767.5 L215 771.5 L216.1 767.7 L217.1 772.6 L218.2 770.6 L219.3 768 L220.4 767 L221.4 771.8 L222.5 766.1 L223.6 767.5 L224.6 770.4 L225.7 773.1 L226.8 771 L227.9 768 L228.9 773.8 L230 767.3 L231.1 765.6 L232.2 767.9 L233.3 769.5 L234.3 766.1 L235.4 767.1 L236.5 768.8 L237.6 770.6 L238.7 766.8 L239.8 768.8 L240.9 773.4 L241.9 774.1 L243 771.3 L244.1 771.6 L245.2 770.7 L246.3 767 L247.4 766.1 L248.4 766 L249.5 773.4 L250.6 771.6 L251.7 773.8 L252.8 766.1 L253.9 771.1 L255 769.9 L256 771.8 L257.1 768.6 L258.2 773.9 L259.3 766.7 L259.6 740 L260.2 700 L260.9 690.5 L261.7 681 L262.8 683.7 L263.9 686.6 L264.9 689.7 L266 692.3 L267.1 693.9 L268.2 695.8 L269.2 697.8 L270.3 698.4 L271.4 700.8 L272.5 703.4 L273.5 705.4 L274.6 706.6 L275.7 712.3 L276.7 717.3 L277.8 721.8 L278.9 727.6 L279.9 732.9 L281 738.9 L282.1 744.6 L283.1 749.7 L284.2 756.1 L285.3 759.8 L286.3 762.7 L287.4 765.3 L288.5 764.2 L289.5 766.3 L290.6 765.9 L291.6 765.3 L292.7 768.6 L293.7 762.5 L294.8 767.8 L295.8 761.6 L296.9 766.3 L297.9 765.1 L299 762.7 L300 766.8 L301.1 765 L302.1 766.1 L303.2 768.9 L304.2 762.9 L305.3 760.7 L306.3 763.3 L307.4 766.8 L308.4 762.5 L309.5 762.2 L310.5 769 L311.6 766.7 L312.6 764.8 L313.7 768.9 L314.7 763.8 L315.8 766.9 L316.8 762.7 L317.9 764.8 L318.9 768.3 L320 769.3 L321.1 768.9 L322.2 764.4 L323.3 766.2 L324.3 763.8 L325.4 762.2 L326.5 765.3 L327.6 768.3 L328.7 768.3 L329.8 767.1 L330.9 769.1 L331.9 763.4 L333 762.5 L334.1 764.8 L335.2 763.3 L336.3 762.8 L337.4 764.4 L338.5 766.1 L339.6 765 L340.6 763.6 L341.7 767.7 L342.8 768.8 L343.9 765" fill="none" stroke="#22ee22" stroke-width="1.5" stroke-linejoin="round"/>
<path d="M88.8 762.3 L89.8 763.7 L90.8 763.7 L91.9 759.4 L92.9 758.3 L93.9 761.2 L94.9 760.3 L95.9 764.9 L96.9 763.8 L98 763 L99 762.6 L100 763.5 L101 758.8 L102 761.6 L103 759.1 L104 765.9 L105 758.2 L106 765.2 L107 758.5 L108 764.1 L109 761 L110 761.6 L111 765.5 L112.1 758.1 L113.1 758.5 L114.2 766 L115.2 762.4 L116.3 758.8 L117.3 766.3 L118.4 765.9 L119.4 759 L120.5 761.5 L121.5 759.2 L122.6 760.6 L123.6 762.9 L124 720 L124.8 660 L125.4 637.4 L126.2 646.2 L127.1 655.8 L128.2 656.3 L129.2 658.1 L130.3 662.1 L131.4 661.3 L132.4 662.1 L133.5 663.6 L134.6 663.9 L135.7 667.2 L136.7 669.7 L137.8 675.3 L138.9 683.3 L139.9 690.7 L140.9 698.5 L142 706.6 L143.1 713.7 L144.1 721.2 L145.2 728.2 L146.3 731.7 L147.3 736.2 L148.4 740.7 L149.3 743.3 L150.2 746.4 L151.1 747.8 L152 748.2 L153 752 L154 750.9 L155 751.9 L156 750.9 L157 752.6 L158 753 L159.1 755.6 L160.2 751.3 L161.3 754.5 L162.4 752 L163.5 755.8 L164.5 751.2 L165.6 753.1 L166.7 753.7 L167.8 756 L168.9 751.7 L170 755 L171.1 753.2 L172.1 753.9 L173.2 755.6 L174.3 759.7 L175.4 755.9 L176.4 760.1 L177.5 753.6 L178.6 760.2 L179.6 755.5 L180.7 754.2 L181.8 759.2 L182.9 760.9 L183.9 752.9 L185 755.4 L186.1 760 L187.1 756.1 L188.2 755.1 L189.3 753 L190.4 753.3 L191.4 758.6 L192.5 761.9 L193.6 762 L194.6 757.5 L195.7 753.2 L196.8 755.9 L197.9 760.1 L198.9 760.5 L200 758.8 L201.1 755.1 L202.2 757.8 L203.3 757.4 L204.3 758.7 L205.4 755.4 L206.5 761.7 L207.6 761.2 L208.7 754.6 L209.8 755.8 L210.9 761.1 L212 755.7 L213 761.8 L214.1 757.9 L215.2 759.6 L216.3 759.7 L217.4 755.2 L218.5 755.9 L219.6 755.7 L220.7 759.6 L221.7 759.7 L222.8 754.6 L223.9 761.5 L225 757.3 L225.9 756.3 L226.8 757 L227.6 748 L228.6 757 L229.6 756 L230.5 755 L231.5 754 L232.4 748.5 L233.3 743 L233.9 750 L234.6 757 L235.3 757.4 L236 759.2 L237 758.4 L238 758.9 L239 760.7 L240 761.4 L241 760.7 L242 758.8 L243 760.2 L244 763.1 L245 762.6 L246 760.7 L247 758.6 L248.1 758.8 L249.1 762.1 L250.1 760.5 L251.1 755.9 L252.2 761.8 L253.2 763.4 L254.2 762.5 L255.2 763.2 L256.2 763.3 L257.3 760.3 L258.3 762.3 L259.3 759.1 L259.7 700 L260.7 635.2 L261.7 648.5 L262.5 650.9 L263.4 653 L264.2 656.5 L265 658.2 L266.1 659.2 L267.1 660.9 L268.2 661 L269.3 664.2 L270.3 666.7 L271.4 668 L272.5 673.4 L273.5 679.5 L274.6 685.2 L275.7 691.3 L276.7 696.3 L277.8 702 L278.9 708 L279.9 714.2 L281 719.9 L282.1 724.8 L283.1 730.1 L284.2 734.3 L285.2 737.5 L286.3 742 L287.3 745.6 L288.4 748.7 L289.5 751.9 L290.5 752.7 L291.6 754.2 L292.7 756.3 L293.8 759 L294.8 754.4 L295.9 756.2 L297 755.6 L298 754.9 L299.1 756.5 L300.2 755.4 L301.3 761.6 L302.4 758.8 L303.5 761 L304.6 757.1 L305.6 760.3 L306.7 762.1 L307.8 764.8 L308.9 760.2 L310 762.6 L311.1 766.3 L312.2 766.1 L313.3 760.7 L314.4 763.6 L315.5 765.7 L316.6 762.4 L317.7 765 L318.7 765 L319.8 767.9 L320.9 764.1 L322 765.4 L323.1 762.4 L324.2 766 L325.3 762.3 L326.4 764 L327.5 762.8 L328.6 762.3 L329.7 760.8 L330.8 761.7 L331.9 764.7 L333 762.1 L334.1 760.3 L335.2 767.2 L336.2 762.6 L337.3 768.6 L338.4 765.6 L339.5 763.7 L340.6 768.2 L341.7 768.5 L342.8 763.3 L343.9 765" fill="none" stroke="#ff1010" stroke-width="1.5" stroke-linejoin="round"/>
<rect x="397.3" y="0" width="2.7" height="843" fill="#f9f4f5"/>
<rect x="0" y="839.3" width="400" height="3.7" fill="#f8f3f3"/>
</svg>
</body></html>
